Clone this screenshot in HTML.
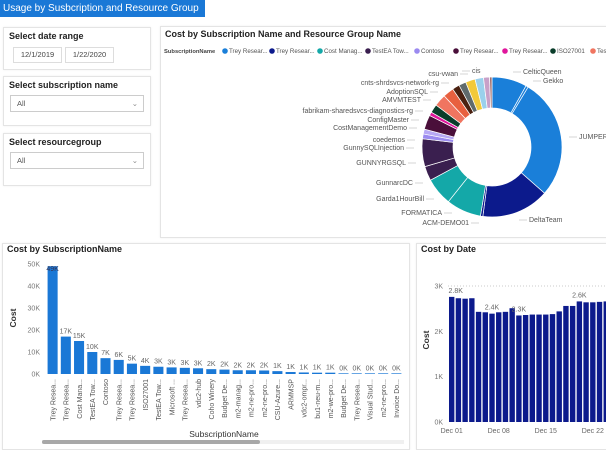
<!DOCTYPE html>
<html><head><meta charset="utf-8">
<style>
body{margin:0;width:606px;height:450px;background:#fff;font-family:"Liberation Sans",sans-serif;overflow:hidden;position:relative}
.abs{position:absolute}
.panel{position:absolute;border:1px solid #e4e4e4;box-shadow:0 0 2px #eee;background:#fff}
.ptitle{position:absolute;font-size:9px;font-weight:bold;color:#222}
.inp{position:absolute;border:1px solid #ddd;font-size:7.5px;color:#444;text-align:center;line-height:14px}
.dd{position:absolute;border:1px solid #ccc;font-size:7.5px;color:#555;line-height:16px;padding-left:6px;box-sizing:border-box}
svg text{font-family:"Liberation Sans",sans-serif}
</style></head><body>
<div class="abs" style="left:0;top:0;width:205px;height:17px;background:#1a78d6;color:#fff;font-size:10px;line-height:17px;padding-left:3px;box-sizing:border-box">Usage by Susbcription and Resource Group</div>

<div class="panel" style="left:3px;top:27px;width:146px;height:41px">
 <div class="ptitle" style="left:5px;top:3px">Select date range</div>
 <div class="inp" style="left:9px;top:19px;width:47px;height:14px">12/1/2019</div>
 <div class="inp" style="left:61px;top:19px;width:47px;height:14px">1/22/2020</div>
</div>
<div class="panel" style="left:3px;top:76px;width:146px;height:48px">
 <div class="ptitle" style="left:5px;top:3px">Select subscription name</div>
 <div class="dd" style="left:6px;top:18px;width:134px;height:17px">All<span style="position:absolute;right:5px;top:0;color:#888">&#8964;</span></div>
</div>
<div class="panel" style="left:3px;top:133px;width:146px;height:51px">
 <div class="ptitle" style="left:5px;top:3px">Select resourcegroup</div>
 <div class="dd" style="left:6px;top:18px;width:134px;height:17px">All<span style="position:absolute;right:5px;top:0;color:#888">&#8964;</span></div>
</div>

<div class="panel" style="left:160px;top:26px;width:450px;height:210px"></div>
<div class="panel" style="left:2px;top:243px;width:406px;height:205px"></div>
<div class="panel" style="left:416px;top:243px;width:195px;height:205px"></div>

<svg id="svg" class="abs" style="left:0;top:0" width="606" height="450"></svg>

<script>
// ---- Donut data ----
const donutLabels=["CelticQueen","Gekko","JUMPER","DeltaTeam","ACM-DEMO01","FORMATICA","Garda1HourBill","GunnarcDC","GUNNYRGSQL","GunnySQLInjection","coedemos","CostManagementDemo","ConfigMaster","fabrikam-sharedsvcs-diagnostics-rg","AMVMTEST","AdoptionSQL","other-a","cnts-shrdsvcs-network-rg","csu-vwan","other-b","cis","other-c"];
const donutValues=[29,2,100,56,2,29,23,12,23,4,4,12,3,7,10,9,6,6,8,7,5,2];
const donutColors=["#1a7fd9","#1a7fd9","#1a7fd9","#0c1a8c","#0c1a8c","#14a8a8","#14a8a8","#3a1f4f","#3a1f4f","#9b8af0","#b7a8f5","#4a0f3a","#e0169c","#0a3d2a","#f07560","#e8603f","#4a2010","#606a6c","#f2c93a","#9ad0ec","#c8a0c8","#a07070"];
// ---- Subscription bar data ----
const subNames=["Trey Resea...","Trey Resea...","Cost Mana...","TestEA Tow...","Contoso","Trey Resea...","Trey Resea...","ISO27001","TestEA Tow...","Microsoft ...","Trey Resea...","vdc2-hub","Coho Winery","Budget De...","m2-manag...","m2-ne-pro...","m2-ne-pro...","CSU-Azure...","ARMMSP","vdc2-ompr...","bu1-neu-m...","m2-we-pro...","Budget De...","Trey Resea...","Visual Stud...","m2-ne-pro...","Invoice Do..."];
const subValues=[49,17,15,10,7.2,6.4,4.7,3.7,3.3,3.0,2.8,2.6,2.2,2.0,1.7,1.7,1.6,1.3,0.9,0.7,0.6,0.6,0.3,0.3,0.3,0.3,0.3];
const subPrinted=["49K","17K","15K","10K","7K","6K","5K","4K","3K","3K","3K","3K","2K","2K","2K","2K","2K","1K","1K","1K","1K","1K","0K","0K","0K","0K","0K"];
const subTicks=[0,10,20,30,40,50];
// ---- Date bar data ----
const dateValues=[2.76,2.73,2.72,2.73,2.43,2.42,2.39,2.42,2.43,2.51,2.35,2.36,2.37,2.37,2.37,2.38,2.44,2.56,2.56,2.66,2.64,2.64,2.65,2.66];
const dateLabelIdx=[0,6,10,19];
const dateLabelText=["2.8K","2.4K","2.3K","2.6K"];
const dateTickIdx=[0,7,14,21];
const dateTickText=["Dec 01","Dec 08","Dec 15","Dec 22"];
const dateYTicks=[0,1,2,3];

const svg=document.getElementById('svg');
const NS="http://www.w3.org/2000/svg";
function mk(t,a,txt){const e=document.createElementNS(NS,t);for(const k in a)e.setAttribute(k,a[k]);if(txt!==undefined)e.textContent=txt;svg.appendChild(e);return e;}

// ===== Donut =====
let tt=mk('text',{x:165,y:37,'font-size':9,'font-weight':'bold',fill:'#222'},'Cost by Subscription Name and Resource Group Name');


const legNames=["Trey Resear...","Trey Resear...","Cost Manag...","TestEA Tow...","Contoso","Trey Resear...","Trey Resear...","ISO27001","TestEA..."];
const legColors=["#1a7fd9","#0c1a8c","#14a8a8","#3a1f4f","#9b8af0","#4a0f3a","#e0169c","#0a3d2a","#f07560"];
let lt=mk('text',{x:164,y:53,'font-size':5.8,'font-weight':'bold',fill:'#444'},'SubscriptionName');


const legX=[225,272,320,368,417,456,505,553,593];
legNames.forEach((n,i)=>{
 const c=mk('circle',{cx:legX[i],cy:51,r:2.8,fill:legColors[i]});
 
 
 const t=mk('text',{x:legX[i]+4,y:53,'font-size':6.2,fill:'#555'},n);
 
 
});
const cx=492,cy=147,R=70,r=39;
const tot=donutValues.reduce((a,b)=>a+b,0);
let acc=0;
function pt(rad,ang){return [cx+rad*Math.sin(ang),cy-rad*Math.cos(ang)];}
donutValues.forEach((v,i)=>{
 const a0=acc/tot*2*Math.PI, a1=(acc+v)/tot*2*Math.PI; acc+=v;
 const [x0,y0]=pt(R,a0),[x1,y1]=pt(R,a1),[x2,y2]=pt(r,a1),[x3,y3]=pt(r,a0);
 const lg=(a1-a0)>Math.PI?1:0;
 const p=mk('path',{d:`M${x0},${y0}A${R},${R} 0 ${lg} 1 ${x1},${y1}L${x2},${y2}A${r},${r} 0 ${lg} 0 ${x3},${y3}Z`,fill:donutColors[i],stroke:'#fff','stroke-width':0.7});
 
 
});
const dl=[["cis",472,73,"start"],["csu-vwan",458,76,"end"],["cnts-shrdsvcs-network-rg",439,85,"end"],["AdoptionSQL",428,94,"end"],["AMVMTEST",421,102,"end"],["fabrikam-sharedsvcs-diagnostics-rg",413,113,"end"],["ConfigMaster",409,122,"end"],["CostManagementDemo",407,130,"end"],["coedemos",405,142,"end"],["GunnySQLInjection",404,150,"end"],["GUNNYRGSQL",406,165,"end"],["GunnarcDC",413,185,"end"],["Garda1HourBill",424,201,"end"],["FORMATICA",442,215,"end"],["ACM-DEMO01",469,225,"end"],["DeltaTeam",529,222,"start"],["JUMPER",579,139,"start"],["Gekko",543,83,"start"],["CelticQueen",523,74,"start"]];
dl.forEach(d=>{
 const t=mk('text',{x:d[1],y:d[2],'font-size':7,fill:'#555','text-anchor':d[3]},d[0]);
 
 
 const lx=d[3]==="end"?d[1]+2:d[1]-2, dx=d[3]==="end"?8:-8;
 mk('line',{x1:lx,y1:d[2]-2,x2:lx+dx,y2:d[2]-2,stroke:'#bbb','stroke-width':0.6});
});

// ===== Subscription bars =====
tt=mk('text',{x:7,y:252,'font-size':9,'font-weight':'bold',fill:'#222'},'Cost by SubscriptionName');


const sx0=46,sx1=403,sy0=374,sy1=264,smax=50;
const band=(sx1-sx0)/subValues.length;
const sy=v=>sy0-(v/smax)*(sy0-sy1);
subTicks.forEach(t=>{
 const e=mk('text',{x:40,y:sy(t*1)+2.5,'font-size':7,fill:'#777','text-anchor':'end'},t+'K');
 
 
});
subValues.forEach((v,i)=>{
 const x=sx0+i*band+band*0.12,w=band*0.76;
 const b=mk('rect',{x:x,y:sy(v),width:w,height:sy0-sy(v),fill:'#1a78d6'});
 
 
 const ly=i===0?sy(v)+5:sy(v)-3;
 const l=mk('text',{x:x+w/2,y:ly,'font-size':7,fill:i===0?'#335':'#666','text-anchor':'middle'},subPrinted[i]);
 
 
 const tx=x+w/2+2.7;
 const n=mk('text',{x:tx,y:379,'font-size':7,fill:'#555','text-anchor':'end',transform:`rotate(-90 ${tx} 379)`},subNames[i]);
 
 
});
tt=mk('text',{x:224,y:437,'font-size':8.5,fill:'#333','text-anchor':'middle'},'SubscriptionName');


tt=mk('text',{x:16,y:318,'font-size':8.5,'font-weight':'bold',fill:'#333','text-anchor':'middle',transform:'rotate(-90 16 318)'},'Cost');


mk('rect',{x:42,y:440,width:362,height:4,fill:'#f0f0f0'});
tt=mk('rect',{x:42,y:440,width:218,height:4,rx:2,fill:'#a8a8a8'});



// ===== Date bars =====
tt=mk('text',{x:421,y:252,'font-size':9,'font-weight':'bold',fill:'#222'},'Cost by Date');


const dx0=449,pitch=6.72,dy0=422,dy3=286;
const dy=v=>dy0-(v/3)*(dy0-dy3);
mk('line',{x1:448,y1:dy(3),x2:606,y2:dy(3),stroke:'#bbb','stroke-width':0.7,'stroke-dasharray':'1,2'});
dateYTicks.forEach(t=>{
 const e=mk('text',{x:443,y:dy(t)+2.5,'font-size':7,fill:'#777','text-anchor':'end'},t+'K');
 
 
});
dateValues.forEach((v,i)=>{
 const b=mk('rect',{x:dx0+i*pitch,y:dy(v),width:pitch*0.8,height:dy0-dy(v),fill:'#0c1a8c'});
 
 
});
dateLabelIdx.forEach((idx,k)=>{
 const e=mk('text',{x:dx0+idx*pitch+pitch*0.4+(k===0?4:0),y:dy(dateValues[idx])-4,'font-size':7,fill:'#666','text-anchor':'middle'},dateLabelText[k]);
 
 
});
dateTickIdx.forEach((idx,k)=>{
 const e=mk('text',{x:dx0+idx*pitch+pitch*0.4,y:433,'font-size':7,fill:'#666','text-anchor':'middle'},dateTickText[k]);
 
 
});
tt=mk('text',{x:429,y:340,'font-size':8.5,'font-weight':'bold',fill:'#333','text-anchor':'middle',transform:'rotate(-90 429 340)'},'Cost');


</script>
</body></html>
